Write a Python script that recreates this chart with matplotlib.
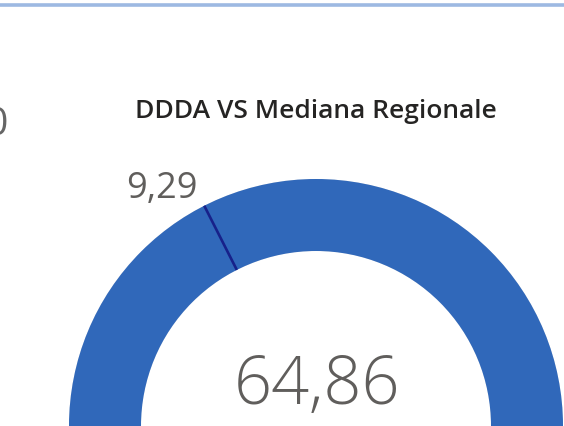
import numpy as np
import matplotlib.pyplot as plt
from matplotlib.patches import Wedge

# gauge data
title = "DDDA VS Mediana Regionale"
value = 64.86
target = 9.29
gauge_min = 0.0
gauge_max = 26.5

W, H = 564, 427
fig = plt.figure(figsize=(W / 100, H / 100), dpi=100)
ax = fig.add_axes([0, 0, 1, 1])
ax.set_xlim(0, W)
ax.set_ylim(0, H)
ax.axis('off')

# top border of the card
ax.axhline(H - 5.7, color='#9DB9E2', lw=2.6)

# gauge geometry (pixels)
cx, cy = 316, 0
r_out, r_in = 247, 175

def frac(v):
    return min(max((v - gauge_min) / (gauge_max - gauge_min), 0), 1)

ax.add_patch(Wedge((cx, cy), r_out, 0, 180, width=r_out - r_in,
                   facecolor='#E6E6E6', edgecolor='none'))
f = frac(value)
ax.add_patch(Wedge((cx, cy), r_out, 180 - 180 * f, 180, width=r_out - r_in,
                   facecolor='#3068BA', edgecolor='none'))

# target marker
ang = np.radians(180 - 180 * frac(target))
ax.plot([cx + r_in * np.cos(ang), cx + r_out * np.cos(ang)],
        [cy + r_in * np.sin(ang), cy + r_out * np.sin(ang)],
        color='#17218A', lw=1.9, solid_capstyle='butt')

fam = ['Open Sans', 'DejaVu Sans']
ax.text(cx + (r_out + 26) * np.cos(ang) - 31, cy + (r_out + 26) * np.sin(ang) - 5,
        f"{target:.2f}".replace('.', ','), ha='center', va='center',
        fontsize=26, color='#605E5C', family=fam)

ax.text(cx + 1, cy + 40, f"{value:.2f}".replace('.', ','), ha='center', va='center',
        fontsize=48, color='#605E5C', family=fam, fontweight='light')

ax.text(cx, H - 111, title, ha='center', va='center',
        fontsize=19, color='#252423', family=fam, fontweight='semibold')

# edge of the neighbouring visual
ax.text(8, H - 125, "0", ha='right', va='center',
        fontsize=28, color='#666666', family=fam)

fig.savefig('out.png', dpi=100)
